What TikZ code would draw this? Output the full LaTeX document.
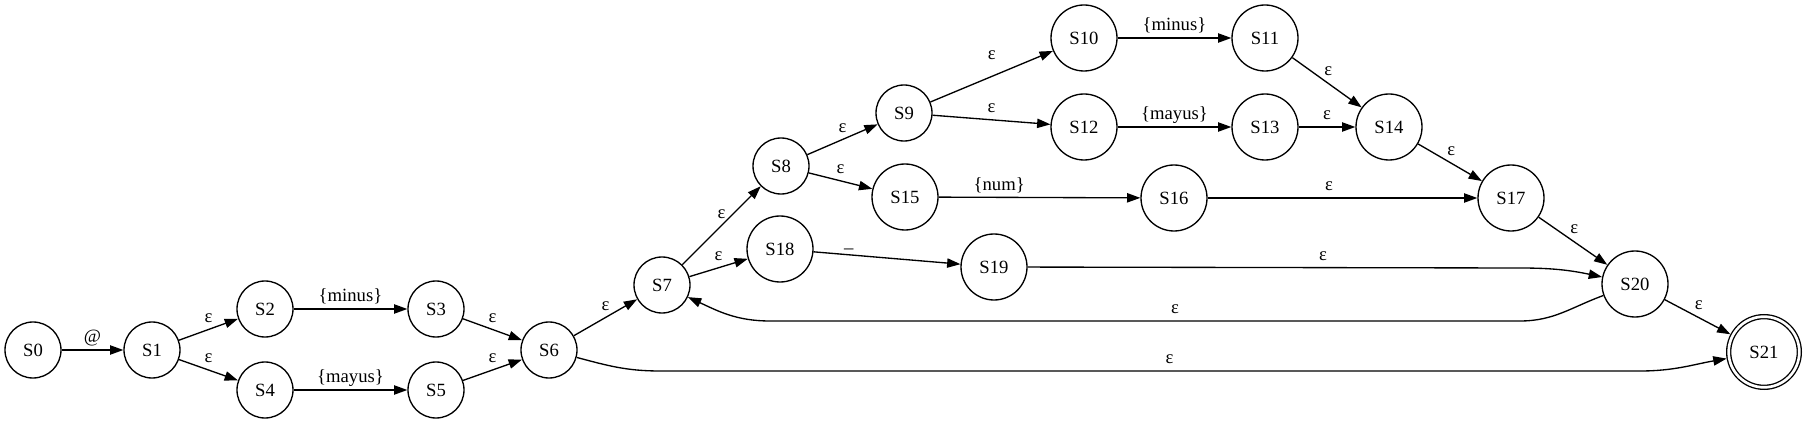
\documentclass[tikz,border=0pt]{standalone}
\usepackage{fontspec}
\setmainfont{Liberation Serif}
\usepackage{tikz}
\usetikzlibrary{arrows.meta}
\tikzstyle{stt} = [circle, draw, line width=1pt, minimum size=42pt, inner sep=0pt, font=\fontsize{14pt}{16pt}\selectfont]
\tikzstyle{sttw} = [stt, minimum size=49.5pt]
\tikzstyle{accept} = [stt, minimum size=53pt, double, double distance=2pt, outer sep=2pt]
\tikzstyle{trans} = [line width=1pt, -{Triangle[length=10pt,width=7pt]}]
\tikzstyle{lbl} = [font=\fontsize{14pt}{16pt}\selectfont, inner sep=1.5pt, text height=10pt, text depth=3.5pt]

\begin{document}
\begin{tikzpicture}[x=0.75pt,y=-0.75pt]
			\useasboundingbox (0,0) rectangle (1807,423);
			\node[stt] (S0) at (33,350) {S0};
			\node[stt] (S1) at (152,350) {S1};
			\node[stt] (S2) at (265,309) {S2};
			\node[stt] (S3) at (436,309) {S3};
			\node[stt] (S4) at (265,390) {S4};
			\node[stt] (S5) at (436,390) {S5};
			\node[stt] (S6) at (549,350) {S6};
			\node[stt] (S7) at (662,285) {S7};
			\node[stt] (S8) at (781,166) {S8};
			\node[stt] (S9) at (904,113) {S9};
			\node[sttw] (S10) at (1084,38) {S10};
			\node[sttw] (S11) at (1265,38) {S11};
			\node[sttw] (S12) at (1084,127) {S12};
			\node[sttw] (S13) at (1265,127) {S13};
			\node[sttw] (S14) at (1389,127) {S14};
			\node[sttw] (S15) at (905,197) {S15};
			\node[sttw] (S16) at (1174,198) {S16};
			\node[sttw] (S17) at (1511,198) {S17};
			\node[sttw] (S18) at (780,249) {S18};
			\node[sttw] (S19) at (994,267) {S19};
			\node[sttw] (S20) at (1635,284) {S20};
			\node[accept] (S21) at (1764,352) {S21};
			\coordinate (c1) at (1520,268);
			\coordinate (c2) at (1520,321);
			\coordinate (c3) at (770,321);
			\coordinate (c4) at (660,371);
			\coordinate (c5) at (1640,371);
			\draw[trans] (S0) -- node[lbl,above]{@} (S1);
			\draw[trans] (S1) -- node[lbl,above]{ε} (S2);
			\draw[trans] (S1) -- node[lbl,above]{ε} (S4);
			\draw[trans] (S2) -- node[lbl,above]{\{minus\}} (S3);
			\draw[trans] (S4) -- node[lbl,above]{\{mayus\}} (S5);
			\draw[trans] (S3) -- node[lbl,above]{ε} (S6);
			\draw[trans] (S5) -- node[lbl,above]{ε} (S6);
			\draw[trans] (S6) -- node[lbl,above]{ε} (S7);
			\draw[trans] (S7) -- node[lbl,above]{ε} (S8);
			\draw[trans] (S7) -- node[lbl,above]{ε} (S18);
			\draw[trans] (S8) -- node[lbl,above]{ε} (S9);
			\draw[trans] (S8) -- node[lbl,above]{ε} (S15);
			\draw[trans] (S9) -- node[lbl,above=7pt]{ε} (S10);
			\draw[trans] (S9) -- node[lbl,above]{ε} (S12);
			\draw[trans] (S10) -- node[lbl,above]{\{minus\}} (S11);
			\draw[trans] (S12) -- node[lbl,above]{\{mayus\}} (S13);
			\draw[trans] (S11) -- node[lbl,above right,xshift=-4pt]{ε} (S14);
			\draw[trans] (S13) -- node[lbl,above]{ε} (S14);
			\draw[trans] (S14) -- node[lbl,above right,xshift=-4pt]{ε} (S17);
			\draw[trans] (S15) -- node[lbl,above,pos=0.3]{\{num\}} (S16);
			\draw[trans] (S16) -- node[lbl,above,pos=0.45]{ε} (S17);
			\draw[trans] (S17) -- node[lbl,above right,xshift=-4pt]{ε} (S20);
			\draw[trans] (S18) -- node[lbl,above,pos=0.24]{\_} (S19);
			\draw[trans] (S19) -- node[lbl,above,pos=0.6]{ε} (c1) to[out=0,in=168] (S20);
			\draw[trans] (S20) to[out=200,in=0] (c2) -- node[lbl,above,pos=0.46]{ε} (c3) to[out=180,in=-25] (S7);
			\draw[trans] (S6) to[out=-15,in=180] (c4) -- node[lbl,above,pos=0.52]{ε} (c5) to[out=0,in=190] (S21);
			\draw[trans] (S20) -- node[lbl,above right,xshift=-4pt]{ε} (S21);
		\end{tikzpicture}
\end{document}
